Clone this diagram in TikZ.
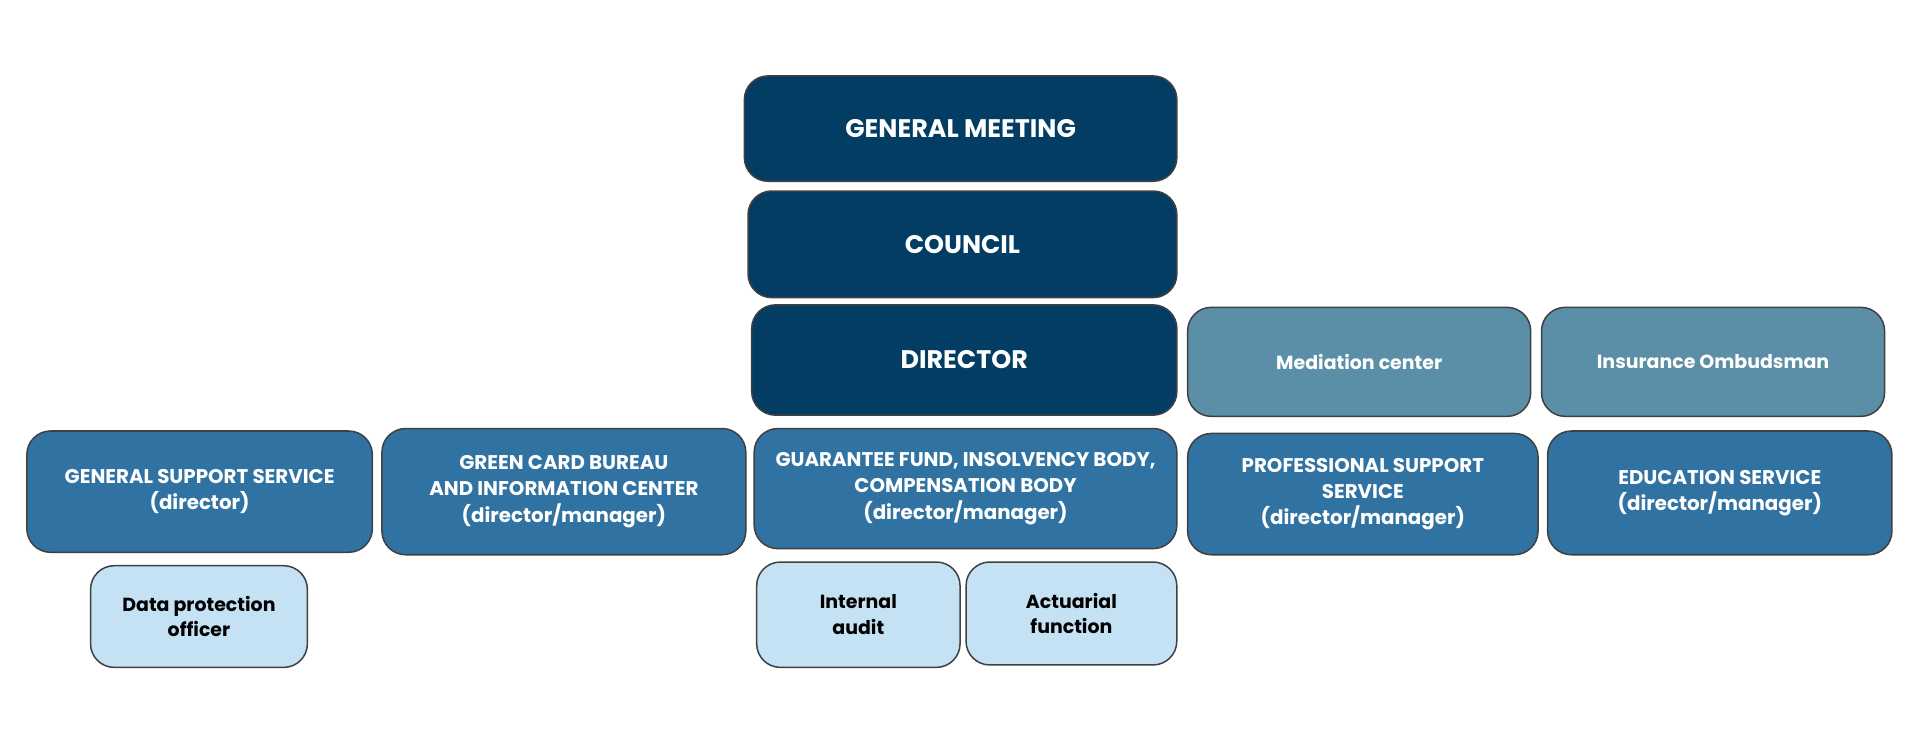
\documentclass[tikz,border=0pt]{standalone}
\usepackage{fontspec}
\setmainfont{Poppins}
\definecolor{topblue}{HTML}{033D63}
\definecolor{midblue}{HTML}{3073A3}
\definecolor{greyblue}{HTML}{5B8FA8}
\definecolor{paleblue}{HTML}{C5E2F5}
\tikzset{
  box/.style={draw=black!75, line width=0.35pt, rounded corners=5.5pt, align=center, inner sep=0pt},
  top/.style={box, fill=topblue, text=white, font=\fontsize{5.9}{7.4}\selectfont\bfseries},
  unit/.style={box, fill=midblue, text=white, font=\fontsize{4.6}{6.1}\selectfont\bfseries},
  side/.style={box, fill=greyblue, text=white, font=\fontsize{4.4}{5.9}\selectfont\bfseries},
  staff/.style={box, fill=paleblue, text=black, font=\fontsize{4.4}{5.9}\selectfont\bfseries},
  sz/.style 2 args={minimum width=#1cm, minimum height=#2cm}
}
\begin{document}
\begin{tikzpicture}[x=0.01cm, y=-0.01cm]

% page
\useasboundingbox (0,0) rectangle (1568,617);

% top of the chart
\node[top, sz={3.53}{0.86}] (meeting) at (784.5,105) {GENERAL MEETING};
\node[top, sz={3.50}{0.87}] (council) at (786,199.5) {COUNCIL};
\node[top, sz={3.47}{0.90}] (director) at (787.5,294) {DIRECTOR};

% independent bodies
\node[side, sz={2.80}{0.89}] (mediation) at (1110,295.5) {Mediation center};
\node[side, sz={2.80}{0.89}] (ombudsman) at (1399,295.5) {Insurance Ombudsman};

% services
\node[unit, sz={2.82}{0.99}] (general) at (163,401.5) {GENERAL SUPPORT SERVICE\\(director)};
\node[unit, sz={2.97}{1.03}] (greencard) at (460.5,401.5) {GREEN CARD BUREAU\\AND INFORMATION CENTER\\(director/manager)};
\node[unit, sz={3.45}{0.98}] (fund) at (788.5,399) {GUARANTEE FUND, INSOLVENCY BODY,\\COMPENSATION BODY\\(director/manager)};
\node[unit, sz={2.86}{0.99}] (professional) at (1113,403.5) {PROFESSIONAL SUPPORT\\SERVICE\\(director/manager)};
\node[unit, sz={2.81}{1.01}] (education) at (1404.5,402.5) {EDUCATION SERVICE\\(director/manager)};

% staff functions
\node[staff, sz={1.77}{0.83}] (dpo) at (162.5,503.5) {Data protection\\officer};
\node[staff, sz={1.66}{0.86}] (audit) at (701,502) {Internal\\audit};
\node[staff, sz={1.72}{0.84}] (actuarial) at (875,501) {Actuarial\\function};

\end{tikzpicture}
\end{document}
